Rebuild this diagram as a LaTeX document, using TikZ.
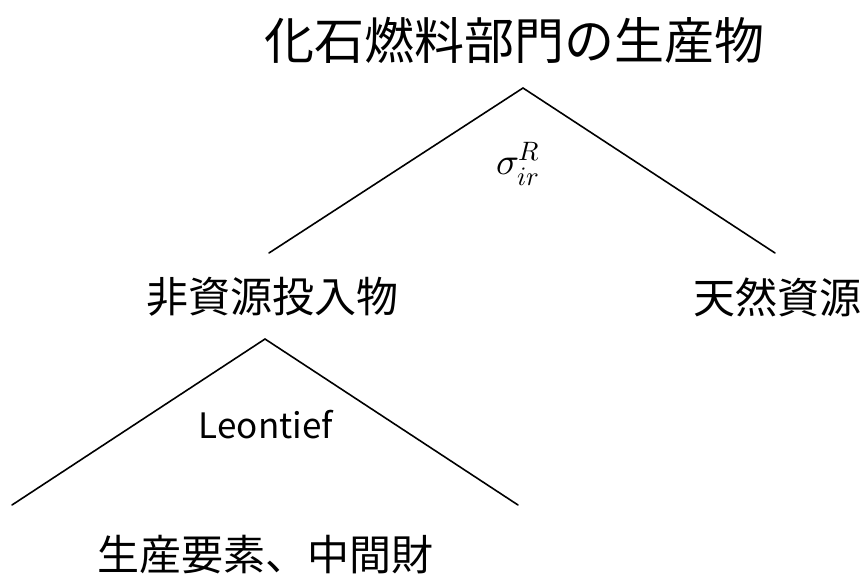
\documentclass[tikz,border=0pt]{standalone}
\usepackage{fontspec}
\usepackage{unicode-math}
\setmainfont{Noto Sans CJK JP}
\setmathfont{Latin Modern Math}
\begin{document}
\begin{tikzpicture}[x=1pt,y=-1pt,
  every node/.style={inner sep=0pt,outer sep=0pt,anchor=center},
  branch/.style={line width=1.6pt,line cap=round},
  titletext/.style={font=\fontsize{50}{60}\selectfont},
  labeltext/.style={font=\fontsize{42}{50}\selectfont},
  smalltext/.style={font=\fontsize{35}{42}\selectfont},
  mathtext/.style={font=\fontsize{38}{46}\selectfont}]
\useasboundingbox (0,0) rectangle (866,575);
\node[titletext] (top) at (514,40) {化石燃料部門の生産物};
\node[mathtext] (sigma) at (518,164) {$\sigma_{ir}^{R}$};
\node[labeltext] (nonres) at (272,297) {非資源投入物};
\node[labeltext] (natres) at (777,297) {天然資源};
\node[smalltext] (leon) at (266,425) {Leontief};
\node[labeltext] (factors) at (265,555) {生産要素、中間財};
\coordinate (apexA) at (523,88);
\coordinate (endAL) at (269,253);
\coordinate (endAR) at (775,253);
\coordinate (apexB) at (265,339);
\coordinate (endBL) at (12,505);
\coordinate (endBR) at (518,505);
\draw[branch] (endAL) -- (apexA) -- (endAR);
\draw[branch] (endBL) -- (apexB) -- (endBR);
\end{tikzpicture}
\end{document}
